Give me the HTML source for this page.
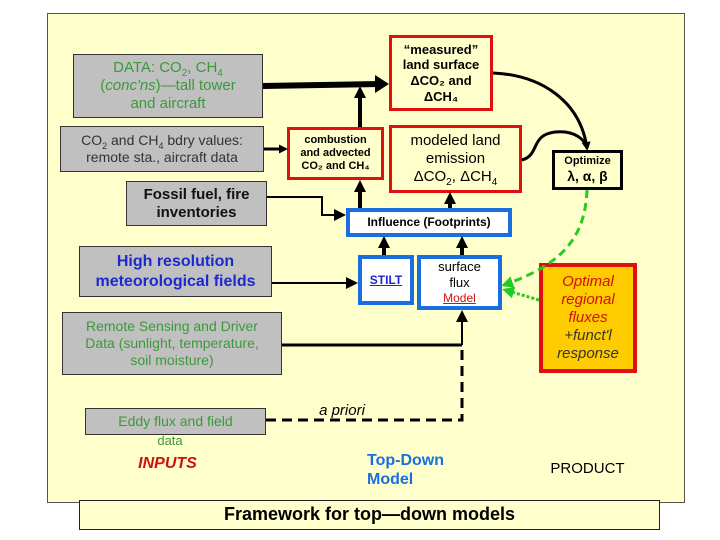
<!DOCTYPE html>
<html><head><meta charset="utf-8"><style>
body{margin:0;width:720px;height:540px;background:#fff;position:relative;overflow:hidden;font-family:"Liberation Sans",sans-serif}
.b{position:absolute;box-sizing:border-box;display:flex;align-items:center;justify-content:center;text-align:center;line-height:1.2}
.b>div{display:block}
.g{background:#c0c0c0;border:1px solid #333}
.r{background:#ffffcc;border:3px solid #e01010;font-weight:bold}
.bl{background:#fff;border:4px solid #1a6fe0;font-weight:bold}
sub{line-height:0}
</style></head><body>
<div style="position:absolute;left:47px;top:13px;width:638px;height:490px;background:#ffffcc;border:1px solid #555;box-sizing:border-box"></div>
<div class="b g" style="left:73px;top:54px;width:190px;height:64px;color:#3a9a3a;font-size:15px"><div>DATA: CO<sub style="font-size:10px">2</sub>, CH<sub style="font-size:10px">4</sub><br>(<i>conc'ns</i>)—tall tower<br>and aircraft</div></div>
<div class="b g" style="left:60px;top:126px;width:204px;height:46px;color:#333;font-size:14px"><div>CO<sub style="font-size:9px">2</sub> and CH<sub style="font-size:9px">4</sub> bdry values:<br>remote sta., aircraft data</div></div>
<div class="b g" style="left:126px;top:181px;width:141px;height:45px;color:#111;font-size:15px;font-weight:bold"><div>Fossil fuel, fire<br>inventories</div></div>
<div class="b g" style="left:79px;top:246px;width:193px;height:51px;color:#1a2ad0;font-size:16px;font-weight:bold"><div>High resolution<br>meteorological fields</div></div>
<div class="b g" style="left:62px;top:312px;width:220px;height:63px;color:#3a9a3a;font-size:14px"><div>Remote Sensing and Driver<br>Data (sunlight, temperature,<br>soil moisture)</div></div>
<div class="b g" style="left:85px;top:408px;width:181px;height:27px;color:#3a9a3a;font-size:14px"><div>Eddy flux and field</div></div>
<div class="b" style="left:140px;top:432px;width:60px;height:18px;color:#3a9a3a;font-size:13px"><div>data</div></div>
<div class="b" style="left:120px;top:454px;width:95px;height:20px;color:#d01010;font-size:16px;font-weight:bold;font-style:italic"><div>INPUTS</div></div>
<div class="b r" style="left:389px;top:35px;width:104px;height:76px;font-size:13px"><div>“measured”<br>land surface<br>ΔCO₂ and<br>ΔCH₄</div></div>
<div class="b r" style="left:287px;top:127px;width:97px;height:53px;font-size:11px"><div>combustion<br>and advected<br>CO₂ and CH₄</div></div>
<div class="b r" style="left:389px;top:125px;width:133px;height:68px;font-size:15px;font-weight:normal"><div>modeled land<br>emission<br>ΔCO<sub style="font-size:10px">2</sub>, ΔCH<sub style="font-size:10px">4</sub></div></div>
<div class="b" style="left:552px;top:150px;width:71px;height:40px;border:3px solid #000;background:#ffffcc;font-size:11px;font-weight:bold"><div>Optimize<br><span style="font-size:14px">λ, α, β</span></div></div>
<div class="b bl" style="left:346px;top:208px;width:166px;height:29px;font-size:12px"><div>Influence (Footprints)</div></div>
<div class="b bl" style="left:358px;top:255px;width:56px;height:50px;font-size:12px;color:#1a2ad0;text-decoration:underline"><div>STILT</div></div>
<div class="b bl" style="left:417px;top:255px;width:85px;height:55px;font-size:13px;font-weight:normal"><div>surface<br>flux<br><span style="color:#d01010;text-decoration:underline;font-size:12px">Model</span></div></div>
<div class="b" style="left:539px;top:263px;width:98px;height:110px;background:#ffcc00;border:4px solid #e01010;font-size:15px;font-style:italic;color:#d01010"><div>Optimal<br>regional<br>fluxes<br><span style="color:#333">+funct'l<br>response</span></div></div>
<div class="b" style="left:367px;top:450px;width:100px;height:40px;color:#1a6fe0;font-size:16px;font-weight:bold;text-align:left;justify-content:flex-start"><div>Top-Down<br>Model</div></div>
<div class="b" style="left:540px;top:459px;width:95px;height:20px;font-size:15px"><div>PRODUCT</div></div>
<div class="b" style="left:310px;top:402px;width:64px;height:18px;font-size:15px;font-style:italic"><div>a priori</div></div>
<div class="b" style="left:79px;top:500px;width:581px;height:30px;background:#ffffcc;border:1px solid #222;font-size:18px;font-weight:bold"><div>Framework for top—down models</div></div>
<svg width="720" height="540" style="position:absolute;left:0;top:0" fill="none" stroke="#000">
<defs><marker id="a" markerWidth="6" markerHeight="6" refX="5" refY="3" orient="auto" markerUnits="strokeWidth"><path d="M0,0L6,3L0,6z" fill="#000" stroke="none"/></marker>
<marker id="s" markerWidth="3" markerHeight="3" refX="2" refY="1.5" orient="auto" markerUnits="strokeWidth"><path d="M0,0L3,1.5L0,3z" fill="#000" stroke="none"/></marker>
<marker id="gm" markerWidth="4" markerHeight="4" refX="3" refY="2" orient="auto" markerUnits="strokeWidth"><path d="M0,0L4,2L0,4z" fill="#2c2" stroke="none"/></marker></defs>
<line x1="263" y1="86" x2="380" y2="84" stroke-width="6"/><path d="M375,75L389,84L375,93z" fill="#000" stroke="none"/>
<line x1="360" y1="127" x2="360" y2="90" stroke-width="4" marker-end="url(#s)"/>
<line x1="264" y1="149" x2="285" y2="149" stroke-width="3" marker-end="url(#s)"/>
<polyline points="267,197 322,197 322,215 344,215" stroke-width="2" marker-end="url(#a)"/>
<line x1="360" y1="208" x2="360" y2="184" stroke-width="4" marker-end="url(#s)"/>
<line x1="450" y1="208" x2="450" y2="196" stroke-width="4" marker-end="url(#s)"/>
<line x1="272" y1="283" x2="356" y2="283" stroke-width="2" marker-end="url(#a)"/>
<line x1="384" y1="255" x2="384" y2="240" stroke-width="4" marker-end="url(#s)"/>
<line x1="462" y1="255" x2="462" y2="240" stroke-width="4" marker-end="url(#s)"/>
<polyline points="282,345 462,345" stroke-width="3"/>
<line x1="462" y1="345" x2="462" y2="312" stroke-width="2" marker-end="url(#a)"/>
<polyline points="266,420 462,420 462,345" stroke-width="3" stroke-dasharray="10,6"/>
<path d="M493,73C540,75 580,100 587,148" stroke-width="3" marker-end="url(#s)"/>
<path d="M522,160C540,155 530,135 555,132C575,130 585,140 587,148" stroke-width="3"/>
<path d="M587,190C585,240 560,265 504,285" stroke="#2c2" stroke-width="3" stroke-dasharray="8,5" marker-end="url(#gm)"/>
<path d="M539,300L505,290" stroke="#2c2" stroke-width="3" stroke-dasharray="3,2" marker-end="url(#gm)"/>
</svg>
</body></html>
